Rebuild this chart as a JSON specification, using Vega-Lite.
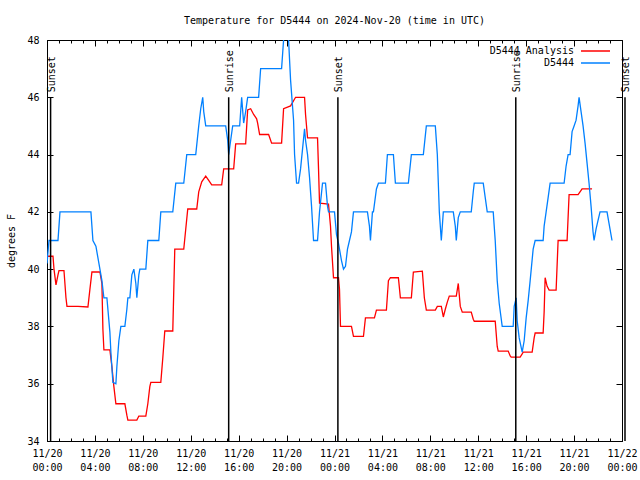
{
  "$schema": "https://vega.github.io/schema/vega-lite/v6.json",
  "width": 575,
  "height": 401,
  "autosize": {"type": "none"},
  "padding": {"left": 47, "top": 40, "right": 18, "bottom": 39},
  "background": "white",
  "config": {
    "font": "DejaVu Sans Mono",
    "view": {"stroke": "black", "strokeWidth": 1},
    "axis": {"labelFont": "DejaVu Sans Mono", "labelFontSize": 10, "labelColor": "black", "tickColor": "black", "tickWidth": 1, "domain": false, "grid": false, "titleFont": "DejaVu Sans Mono", "titleFontSize": 10, "titleFontWeight": "normal", "titleColor": "black"}
  },
  "title": {"text": "Temperature for D5444 on 2024-Nov-20 (time in UTC)", "font": "DejaVu Sans Mono", "fontSize": 10, "fontWeight": "normal", "color": "black", "anchor": "middle", "offset": 9},
  "datasets": {
    "analysis": [
      {"t":"2024-11-20T00:00:00Z","v":40.45},{"t":"2024-11-20T00:30:00Z","v":40.45},{"t":"2024-11-20T00:35:00Z","v":40.0},{"t":"2024-11-20T00:45:00Z","v":39.45},{"t":"2024-11-20T00:55:00Z","v":39.8},{"t":"2024-11-20T01:00:00Z","v":39.95},{"t":"2024-11-20T01:25:00Z","v":39.95},{"t":"2024-11-20T01:35:00Z","v":39.0},{"t":"2024-11-20T01:40:00Z","v":38.7},{"t":"2024-11-20T02:35:00Z","v":38.7},{"t":"2024-11-20T03:25:00Z","v":38.68},{"t":"2024-11-20T03:35:00Z","v":39.3},{"t":"2024-11-20T03:45:00Z","v":39.9},{"t":"2024-11-20T04:25:00Z","v":39.9},{"t":"2024-11-20T04:35:00Z","v":39.5},{"t":"2024-11-20T04:40:00Z","v":37.9},{"t":"2024-11-20T04:45:00Z","v":37.18},{"t":"2024-11-20T05:15:00Z","v":37.18},{"t":"2024-11-20T05:25:00Z","v":36.6},{"t":"2024-11-20T05:35:00Z","v":35.9},{"t":"2024-11-20T05:45:00Z","v":35.3},{"t":"2024-11-20T06:30:00Z","v":35.3},{"t":"2024-11-20T06:40:00Z","v":34.9},{"t":"2024-11-20T06:45:00Z","v":34.73},{"t":"2024-11-20T07:30:00Z","v":34.73},{"t":"2024-11-20T07:40:00Z","v":34.87},{"t":"2024-11-20T08:15:00Z","v":34.87},{"t":"2024-11-20T08:25:00Z","v":35.3},{"t":"2024-11-20T08:35:00Z","v":35.9},{"t":"2024-11-20T08:40:00Z","v":36.05},{"t":"2024-11-20T09:30:00Z","v":36.05},{"t":"2024-11-20T09:40:00Z","v":36.9},{"t":"2024-11-20T09:50:00Z","v":37.84},{"t":"2024-11-20T10:30:00Z","v":37.84},{"t":"2024-11-20T10:40:00Z","v":40.7},{"t":"2024-11-20T11:25:00Z","v":40.7},{"t":"2024-11-20T11:35:00Z","v":41.4},{"t":"2024-11-20T11:45:00Z","v":42.1},{"t":"2024-11-20T12:30:00Z","v":42.1},{"t":"2024-11-20T12:40:00Z","v":42.7},{"t":"2024-11-20T12:55:00Z","v":43.05},{"t":"2024-11-20T13:15:00Z","v":43.25},{"t":"2024-11-20T13:30:00Z","v":43.1},{"t":"2024-11-20T13:45:00Z","v":42.94},{"t":"2024-11-20T14:35:00Z","v":42.94},{"t":"2024-11-20T14:45:00Z","v":43.5},{"t":"2024-11-20T15:35:00Z","v":43.5},{"t":"2024-11-20T15:45:00Z","v":44.37},{"t":"2024-11-20T16:35:00Z","v":44.37},{"t":"2024-11-20T16:45:00Z","v":45.56},{"t":"2024-11-20T17:00:00Z","v":45.6},{"t":"2024-11-20T17:15:00Z","v":45.4},{"t":"2024-11-20T17:30:00Z","v":45.25},{"t":"2024-11-20T17:35:00Z","v":45.1},{"t":"2024-11-20T17:45:00Z","v":44.7},{"t":"2024-11-20T18:30:00Z","v":44.7},{"t":"2024-11-20T18:45:00Z","v":44.4},{"t":"2024-11-20T19:35:00Z","v":44.4},{"t":"2024-11-20T19:45:00Z","v":45.6},{"t":"2024-11-20T20:20:00Z","v":45.7},{"t":"2024-11-20T20:45:00Z","v":46.0},{"t":"2024-11-20T21:30:00Z","v":46.0},{"t":"2024-11-20T21:35:00Z","v":45.4},{"t":"2024-11-20T21:45:00Z","v":44.58},{"t":"2024-11-20T22:35:00Z","v":44.58},{"t":"2024-11-20T22:40:00Z","v":43.5},{"t":"2024-11-20T22:45:00Z","v":42.3},{"t":"2024-11-20T23:30:00Z","v":42.27},{"t":"2024-11-20T23:40:00Z","v":41.5},{"t":"2024-11-20T23:45:00Z","v":40.8},{"t":"2024-11-20T23:55:00Z","v":39.7},
      {"t":"2024-11-21T00:20:00Z","v":39.7},{"t":"2024-11-21T00:25:00Z","v":39.3},{"t":"2024-11-21T00:30:00Z","v":38.0},{"t":"2024-11-21T01:25:00Z","v":38.0},{"t":"2024-11-21T01:35:00Z","v":37.65},{"t":"2024-11-21T02:25:00Z","v":37.65},{"t":"2024-11-21T02:35:00Z","v":38.3},{"t":"2024-11-21T03:20:00Z","v":38.3},{"t":"2024-11-21T03:30:00Z","v":38.57},{"t":"2024-11-21T04:20:00Z","v":38.57},{"t":"2024-11-21T04:30:00Z","v":39.6},{"t":"2024-11-21T04:40:00Z","v":39.7},{"t":"2024-11-21T05:20:00Z","v":39.7},{"t":"2024-11-21T05:30:00Z","v":39.0},{"t":"2024-11-21T06:25:00Z","v":39.0},{"t":"2024-11-21T06:35:00Z","v":39.9},{"t":"2024-11-21T07:20:00Z","v":39.93},{"t":"2024-11-21T07:30:00Z","v":39.0},{"t":"2024-11-21T07:40:00Z","v":38.57},{"t":"2024-11-21T08:25:00Z","v":38.57},{"t":"2024-11-21T08:35:00Z","v":38.7},{"t":"2024-11-21T08:55:00Z","v":38.7},{"t":"2024-11-21T09:05:00Z","v":38.33},{"t":"2024-11-21T09:15:00Z","v":38.6},{"t":"2024-11-21T09:25:00Z","v":38.85},{"t":"2024-11-21T09:35:00Z","v":39.06},{"t":"2024-11-21T10:10:00Z","v":39.06},{"t":"2024-11-21T10:20:00Z","v":39.5},{"t":"2024-11-21T10:30:00Z","v":38.7},{"t":"2024-11-21T10:40:00Z","v":38.5},{"t":"2024-11-21T11:25:00Z","v":38.5},{"t":"2024-11-21T11:35:00Z","v":38.25},{"t":"2024-11-21T11:40:00Z","v":38.18},{"t":"2024-11-21T13:25:00Z","v":38.18},{"t":"2024-11-21T13:35:00Z","v":37.3},{"t":"2024-11-21T13:40:00Z","v":37.14},{"t":"2024-11-21T14:30:00Z","v":37.14},{"t":"2024-11-21T14:40:00Z","v":36.97},{"t":"2024-11-21T14:45:00Z","v":36.93},{"t":"2024-11-21T15:30:00Z","v":36.93},{"t":"2024-11-21T15:40:00Z","v":37.04},{"t":"2024-11-21T15:45:00Z","v":37.1},{"t":"2024-11-21T16:30:00Z","v":37.1},{"t":"2024-11-21T16:40:00Z","v":37.6},{"t":"2024-11-21T16:45:00Z","v":37.77},{"t":"2024-11-21T17:25:00Z","v":37.77},{"t":"2024-11-21T17:30:00Z","v":38.5},{"t":"2024-11-21T17:35:00Z","v":39.7},{"t":"2024-11-21T17:45:00Z","v":39.4},{"t":"2024-11-21T17:55:00Z","v":39.27},{"t":"2024-11-21T18:30:00Z","v":39.27},{"t":"2024-11-21T18:40:00Z","v":41.0},{"t":"2024-11-21T19:25:00Z","v":41.0},{"t":"2024-11-21T19:35:00Z","v":42.6},{"t":"2024-11-21T20:20:00Z","v":42.6},{"t":"2024-11-21T20:35:00Z","v":42.75},{"t":"2024-11-21T20:40:00Z","v":42.8},{"t":"2024-11-21T21:30:00Z","v":42.8}
    ],
    "obs": [
      {"t":"2024-11-20T00:00:00Z","v":40.2},{"t":"2024-11-20T00:10:00Z","v":41},{"t":"2024-11-20T00:55:00Z","v":41},{"t":"2024-11-20T01:05:00Z","v":42},{"t":"2024-11-20T03:40:00Z","v":42},{"t":"2024-11-20T03:50:00Z","v":41},{"t":"2024-11-20T04:05:00Z","v":40.8},{"t":"2024-11-20T04:20:00Z","v":40.2},{"t":"2024-11-20T04:35:00Z","v":39.6},{"t":"2024-11-20T04:45:00Z","v":39},{"t":"2024-11-20T05:00:00Z","v":39},{"t":"2024-11-20T05:15:00Z","v":37.8},{"t":"2024-11-20T05:20:00Z","v":37.1},{"t":"2024-11-20T05:30:00Z","v":36.05},{"t":"2024-11-20T05:45:00Z","v":36},{"t":"2024-11-20T05:50:00Z","v":36.6},{"t":"2024-11-20T06:00:00Z","v":37.5},{"t":"2024-11-20T06:10:00Z","v":38},{"t":"2024-11-20T06:30:00Z","v":38},{"t":"2024-11-20T06:40:00Z","v":38.6},{"t":"2024-11-20T06:45:00Z","v":39},{"t":"2024-11-20T06:55:00Z","v":39},{"t":"2024-11-20T07:05:00Z","v":39.8},{"t":"2024-11-20T07:15:00Z","v":40},{"t":"2024-11-20T07:25:00Z","v":39.5},{"t":"2024-11-20T07:30:00Z","v":39},{"t":"2024-11-20T07:40:00Z","v":39.8},{"t":"2024-11-20T07:45:00Z","v":40},{"t":"2024-11-20T08:15:00Z","v":40},{"t":"2024-11-20T08:25:00Z","v":41},{"t":"2024-11-20T09:20:00Z","v":41},{"t":"2024-11-20T09:30:00Z","v":42},{"t":"2024-11-20T10:30:00Z","v":42},{"t":"2024-11-20T10:45:00Z","v":43},{"t":"2024-11-20T11:25:00Z","v":43},{"t":"2024-11-20T11:40:00Z","v":44},{"t":"2024-11-20T12:25:00Z","v":44},{"t":"2024-11-20T12:40:00Z","v":45},{"t":"2024-11-20T12:50:00Z","v":45.6},{"t":"2024-11-20T13:00:00Z","v":46},{"t":"2024-11-20T13:05:00Z","v":45.5},{"t":"2024-11-20T13:15:00Z","v":45},{"t":"2024-11-20T14:55:00Z","v":45},{"t":"2024-11-20T15:05:00Z","v":44.5},{"t":"2024-11-20T15:10:00Z","v":44},{"t":"2024-11-20T15:20:00Z","v":44.5},{"t":"2024-11-20T15:30:00Z","v":45},{"t":"2024-11-20T16:05:00Z","v":45},{"t":"2024-11-20T16:15:00Z","v":46},{"t":"2024-11-20T16:25:00Z","v":45.1},{"t":"2024-11-20T16:35:00Z","v":45.5},{"t":"2024-11-20T16:45:00Z","v":46},{"t":"2024-11-20T17:40:00Z","v":46},{"t":"2024-11-20T17:50:00Z","v":47},{"t":"2024-11-20T19:35:00Z","v":47},{"t":"2024-11-20T19:45:00Z","v":48},{"t":"2024-11-20T20:00:00Z","v":49},{"t":"2024-11-20T20:10:00Z","v":48},{"t":"2024-11-20T20:20:00Z","v":46.6},{"t":"2024-11-20T20:35:00Z","v":45.2},{"t":"2024-11-20T20:40:00Z","v":44},{"t":"2024-11-20T20:50:00Z","v":43},{"t":"2024-11-20T21:00:00Z","v":43},{"t":"2024-11-20T21:10:00Z","v":43.5},{"t":"2024-11-20T21:20:00Z","v":44.2},{"t":"2024-11-20T21:30:00Z","v":44.9},{"t":"2024-11-20T21:35:00Z","v":44.5},{"t":"2024-11-20T21:45:00Z","v":44},{"t":"2024-11-20T21:55:00Z","v":43.2},{"t":"2024-11-20T22:05:00Z","v":42.2},{"t":"2024-11-20T22:15:00Z","v":41},{"t":"2024-11-20T22:35:00Z","v":41},{"t":"2024-11-20T22:45:00Z","v":42},{"t":"2024-11-20T23:00:00Z","v":43},{"t":"2024-11-20T23:15:00Z","v":43},{"t":"2024-11-20T23:25:00Z","v":42.2},{"t":"2024-11-20T23:30:00Z","v":42},
      {"t":"2024-11-21T00:00:00Z","v":42},{"t":"2024-11-21T00:10:00Z","v":41.2},{"t":"2024-11-21T00:20:00Z","v":40.9},{"t":"2024-11-21T00:35:00Z","v":40.3},{"t":"2024-11-21T00:45:00Z","v":40},{"t":"2024-11-21T00:55:00Z","v":40.1},{"t":"2024-11-21T01:05:00Z","v":40.7},{"t":"2024-11-21T01:15:00Z","v":41},{"t":"2024-11-21T01:25:00Z","v":41.3},{"t":"2024-11-21T01:35:00Z","v":42},{"t":"2024-11-21T02:45:00Z","v":42},{"t":"2024-11-21T02:55:00Z","v":41.5},{"t":"2024-11-21T03:00:00Z","v":41},{"t":"2024-11-21T03:10:00Z","v":42},{"t":"2024-11-21T03:15:00Z","v":42},{"t":"2024-11-21T03:30:00Z","v":42.8},{"t":"2024-11-21T03:40:00Z","v":43},{"t":"2024-11-21T04:15:00Z","v":43},{"t":"2024-11-21T04:25:00Z","v":44},{"t":"2024-11-21T04:55:00Z","v":44},{"t":"2024-11-21T05:05:00Z","v":43},{"t":"2024-11-21T06:10:00Z","v":43},{"t":"2024-11-21T06:25:00Z","v":44},{"t":"2024-11-21T07:25:00Z","v":44},{"t":"2024-11-21T07:40:00Z","v":45},{"t":"2024-11-21T08:25:00Z","v":45},{"t":"2024-11-21T08:35:00Z","v":44},{"t":"2024-11-21T08:45:00Z","v":42},{"t":"2024-11-21T08:55:00Z","v":41},{"t":"2024-11-21T09:05:00Z","v":42},{"t":"2024-11-21T09:55:00Z","v":42},{"t":"2024-11-21T10:05:00Z","v":41.5},{"t":"2024-11-21T10:10:00Z","v":41},{"t":"2024-11-21T10:20:00Z","v":41.8},{"t":"2024-11-21T10:30:00Z","v":42},{"t":"2024-11-21T11:25:00Z","v":42},{"t":"2024-11-21T11:35:00Z","v":42.7},{"t":"2024-11-21T11:40:00Z","v":43},{"t":"2024-11-21T12:25:00Z","v":43},{"t":"2024-11-21T12:35:00Z","v":42.5},{"t":"2024-11-21T12:45:00Z","v":42},{"t":"2024-11-21T13:15:00Z","v":42},{"t":"2024-11-21T13:25:00Z","v":41},{"t":"2024-11-21T13:35:00Z","v":39.6},{"t":"2024-11-21T13:45:00Z","v":38.8},{"t":"2024-11-21T14:00:00Z","v":38},{"t":"2024-11-21T14:55:00Z","v":38},{"t":"2024-11-21T15:00:00Z","v":38.7},{"t":"2024-11-21T15:10:00Z","v":39},{"t":"2024-11-21T15:15:00Z","v":38.2},{"t":"2024-11-21T15:25:00Z","v":37.6},{"t":"2024-11-21T15:40:00Z","v":37.1},{"t":"2024-11-21T15:50:00Z","v":37.5},{"t":"2024-11-21T16:00:00Z","v":38.3},{"t":"2024-11-21T16:10:00Z","v":38.9},{"t":"2024-11-21T16:20:00Z","v":39.6},{"t":"2024-11-21T16:35:00Z","v":40.7},{"t":"2024-11-21T16:45:00Z","v":41},{"t":"2024-11-21T17:25:00Z","v":41},{"t":"2024-11-21T17:30:00Z","v":41.5},{"t":"2024-11-21T17:40:00Z","v":42},{"t":"2024-11-21T17:50:00Z","v":42.5},{"t":"2024-11-21T18:00:00Z","v":43},{"t":"2024-11-21T19:10:00Z","v":43},{"t":"2024-11-21T19:20:00Z","v":43.6},{"t":"2024-11-21T19:30:00Z","v":44},{"t":"2024-11-21T19:40:00Z","v":44},{"t":"2024-11-21T19:50:00Z","v":44.8},{"t":"2024-11-21T20:00:00Z","v":45},{"t":"2024-11-21T20:10:00Z","v":45.2},{"t":"2024-11-21T20:20:00Z","v":45.7},{"t":"2024-11-21T20:25:00Z","v":46},{"t":"2024-11-21T20:35:00Z","v":45.5},{"t":"2024-11-21T20:45:00Z","v":45},{"t":"2024-11-21T20:55:00Z","v":44.4},{"t":"2024-11-21T21:05:00Z","v":43.7},{"t":"2024-11-21T21:15:00Z","v":43},{"t":"2024-11-21T21:25:00Z","v":42.2},{"t":"2024-11-21T21:35:00Z","v":41.3},{"t":"2024-11-21T21:40:00Z","v":41},{"t":"2024-11-21T21:50:00Z","v":41.4},{"t":"2024-11-21T22:00:00Z","v":41.7},{"t":"2024-11-21T22:10:00Z","v":42},{"t":"2024-11-21T22:45:00Z","v":42},{"t":"2024-11-21T22:55:00Z","v":41.6},{"t":"2024-11-21T23:10:00Z","v":41}
    ],
    "sun": [
      {"label":"Sunset","t":"2024-11-20T00:18:00Z"},
      {"label":"Sunrise","t":"2024-11-20T15:10:00Z"},
      {"label":"Sunset","t":"2024-11-21T00:17:00Z"},
      {"label":"Sunrise","t":"2024-11-21T15:08:00Z"},
      {"label":"Sunset","t":"2024-11-22T00:15:00Z"}
    ]
  },
  "resolve": {"axis": {"x": "independent", "y": "independent"}},
  "layer": [
    {
      "data": {"name": "analysis"},
      "mark": {"type": "line", "clip": true, "strokeWidth": 1.3},
      "encoding": {
        "x": {"field": "t", "type": "temporal",
          "scale": {"type": "utc", "domain": [1732060800000, 1732233600000]},
          "axis": {"orient": "bottom", "values": [1732060800000,1732075200000,1732089600000,1732104000000,1732118400000,1732132800000,1732147200000,1732161600000,1732176000000,1732190400000,1732204800000,1732219200000,1732233600000], "tickSize": -6, "labelPadding": 13, "labelExpr": "[utcFormat(datum.value, '%m/%d'), utcFormat(datum.value, '%H:%M')]", "labelBaseline": "top", "labelLineHeight": 14, "labelFlush": false, "labelOverlap": false, "labelAngle": 0, "title": null}},
        "y": {"field": "v", "type": "quantitative",
          "scale": {"domain": [34, 48], "nice": false, "zero": false},
          "axis": {"orient": "left", "values": [34, 36, 38, 40, 42, 44, 46, 48], "tickSize": -6, "labelPadding": 14, "title": "degrees F", "titlePadding": 10}},
        "color": {"datum": "D5444 Analysis", "type": "nominal",
          "scale": {"domain": ["D5444 Analysis", "D5444"], "range": ["#ff0000", "#0080ff"]},
          "legend": {"orient": "none", "legendX": 542.5, "legendY": 5, "direction": "vertical", "title": null, "symbolType": "M-2.9,0H2.9", "symbolSize": 100, "symbolStrokeWidth": 1.5, "rowPadding": 1, "labelAlign": "right", "labelOffset": -27.5, "labelFont": "DejaVu Sans Mono", "labelFontSize": 10, "labelColor": "black", "padding": 0,
            "encode": {"symbols": {"update": {"stroke": {"scale": "color", "field": "value"}, "strokeWidth": {"value": 1.5}, "fill": {"value": "transparent"}, "opacity": {"value": 1}}}}}}
      }
    },
    {
      "data": {"name": "obs"},
      "mark": {"type": "line", "clip": true, "strokeWidth": 1.3},
      "encoding": {
        "x": {"field": "t", "type": "temporal",
          "axis": {"orient": "bottom", "values": [1732060800000,1732064400000,1732068000000,1732071600000,1732075200000,1732078800000,1732082400000,1732086000000,1732089600000,1732093200000,1732096800000,1732100400000,1732104000000,1732107600000,1732111200000,1732114800000,1732118400000,1732122000000,1732125600000,1732129200000,1732132800000,1732136400000,1732140000000,1732143600000,1732147200000,1732150800000,1732154400000,1732158000000,1732161600000,1732165200000,1732168800000,1732172400000,1732176000000,1732179600000,1732183200000,1732186800000,1732190400000,1732194000000,1732197600000,1732201200000,1732204800000,1732208400000,1732212000000,1732215600000,1732219200000,1732222800000,1732226400000,1732230000000,1732233600000], "tickSize": -3, "labels": false, "title": null}},
        "y": {"field": "v", "type": "quantitative",
          "axis": {"orient": "right", "values": [34, 36, 38, 40, 42, 44, 46, 48], "tickSize": -6, "labels": false, "title": null}},
        "color": {"datum": "D5444", "type": "nominal"}
      }
    },
    {
      "data": {"name": "sun"},
      "mark": {"type": "rule", "color": "black", "strokeWidth": 1.5},
      "encoding": {
        "x": {"field": "t", "type": "temporal",
          "axis": {"orient": "top", "values": [1732060800000,1732075200000,1732089600000,1732104000000,1732118400000,1732132800000,1732147200000,1732161600000,1732176000000,1732190400000,1732204800000,1732219200000,1732233600000], "tickSize": -6, "labels": false, "title": null}},
        "y": {"datum": 46, "type": "quantitative", "axis": null},
        "y2": {"datum": 34}
      }
    },
    {
      "data": {"name": "sun"},
      "mark": {"type": "text", "angle": 270, "align": "left", "baseline": "middle", "dx": 5, "dy": 1, "font": "DejaVu Sans Mono", "fontSize": 10, "color": "black"},
      "encoding": {
        "x": {"field": "t", "type": "temporal",
          "axis": {"orient": "top", "values": [1732060800000,1732064400000,1732068000000,1732071600000,1732075200000,1732078800000,1732082400000,1732086000000,1732089600000,1732093200000,1732096800000,1732100400000,1732104000000,1732107600000,1732111200000,1732114800000,1732118400000,1732122000000,1732125600000,1732129200000,1732132800000,1732136400000,1732140000000,1732143600000,1732147200000,1732150800000,1732154400000,1732158000000,1732161600000,1732165200000,1732168800000,1732172400000,1732176000000,1732179600000,1732183200000,1732186800000,1732190400000,1732194000000,1732197600000,1732201200000,1732204800000,1732208400000,1732212000000,1732215600000,1732219200000,1732222800000,1732226400000,1732230000000,1732233600000], "tickSize": -3, "labels": false, "title": null}},
        "y": {"datum": 46, "type": "quantitative", "axis": null},
        "text": {"field": "label"}
      }
    }
  ]
}
